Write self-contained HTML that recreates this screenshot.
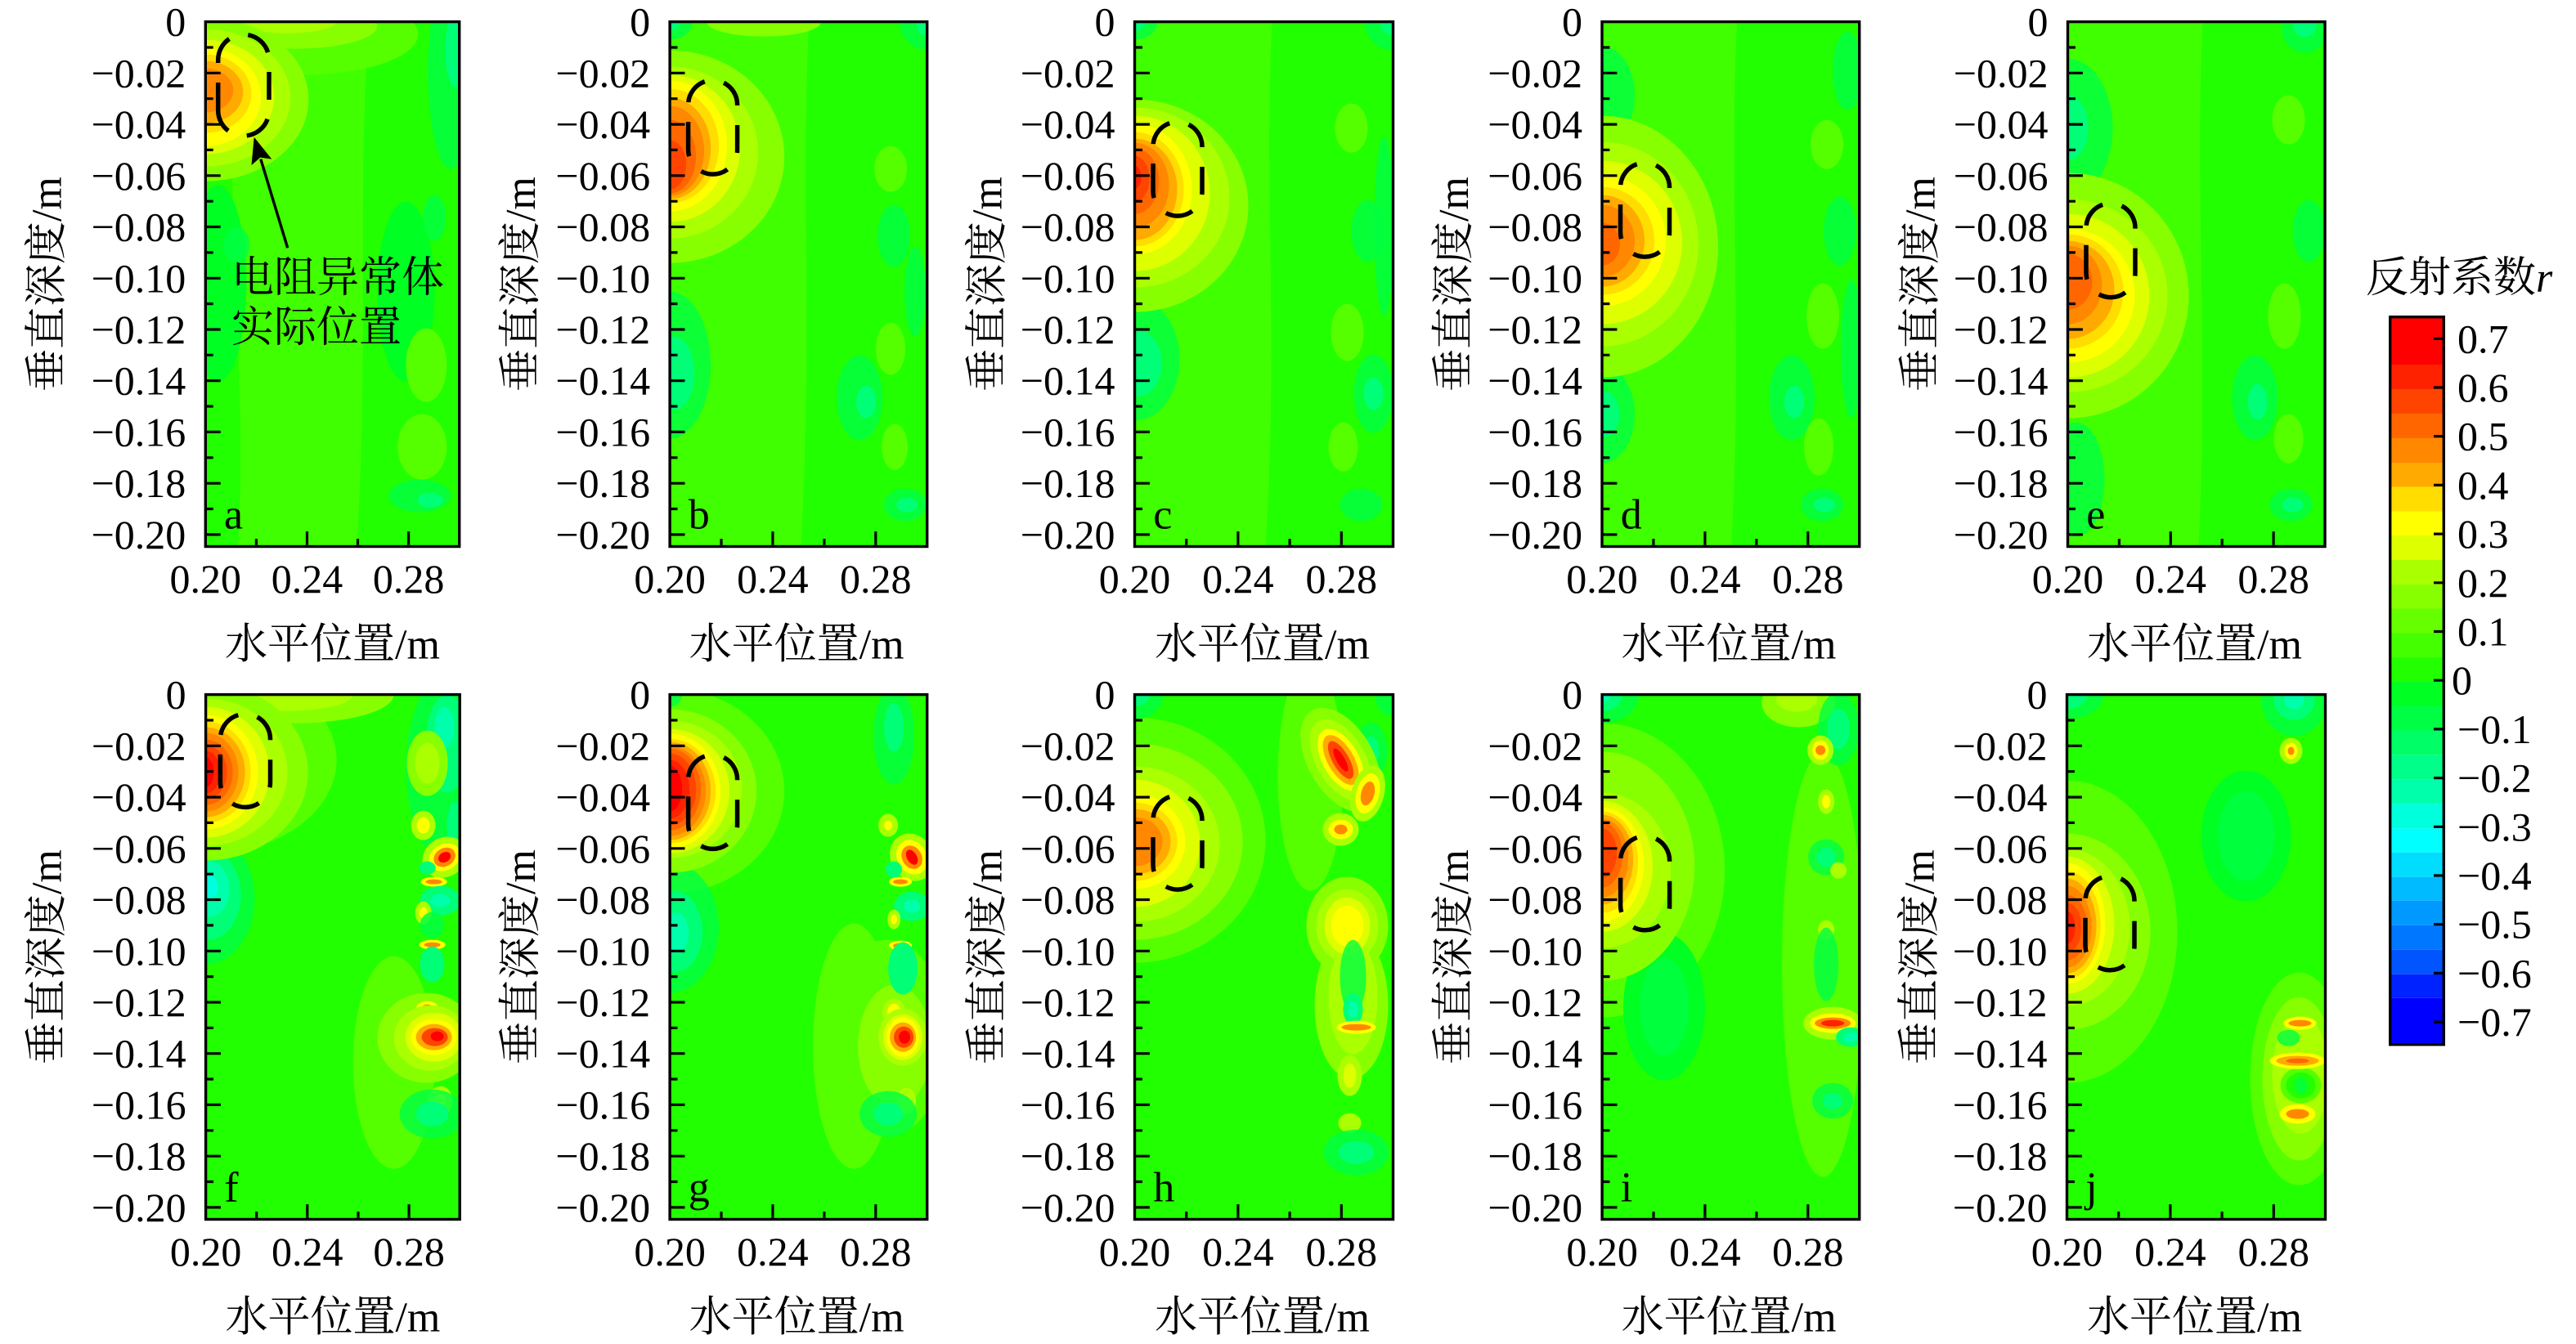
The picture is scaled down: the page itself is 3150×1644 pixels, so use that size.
<!DOCTYPE html>
<html><head><meta charset="utf-8">
<style>
html,body{margin:0;padding:0;background:#fff;}
svg{display:block;}
text{font-family:"Liberation Serif","Noto Serif CJK SC",serif;fill:#000;}
.yl{font-size:50px;text-anchor:end;}
.xl{font-size:50px;text-anchor:middle;}
.ti{font-size:52px;text-anchor:middle;}
.lt{font-size:52px;}
.cl{font-size:50px;}
.fr{fill:none;stroke:#000;stroke-width:3.4;}
.tk{fill:none;stroke:#000;stroke-width:3.2;}
.ds{fill:none;stroke:#000;stroke-width:5.5;stroke-dasharray:34 24;}
.g0{fill:#00ff22}.g1{fill:#22ff00}.gb{fill:#40ff00}.g2{fill:#55ff00}.g3{fill:#88ff00}.g4{fill:#aaff00}.g5{fill:#ddff00}
.y6{fill:#ffff00}.y7{fill:#ffdd00}.o8{fill:#ffaa00}.o9{fill:#ff8800}.o10{fill:#ff6600}
.r11{fill:#ff4400}.r12{fill:#ff2200}.r13{fill:#ff0000}
.n1{fill:#00ff44;fill-opacity:0.8}.n2{fill:#00ff77}.n3{fill:#00ffaa}.n4{fill:#00ffdd}
</style></head>
<body>
<svg width="3150" height="1644" viewBox="0 0 3150 1644" xmlns="http://www.w3.org/2000/svg">
<defs>
<clipPath id="cA"><rect width="310.5" height="641.9"/></clipPath>
<clipPath id="cB"><rect width="315" height="641.9"/></clipPath>
<clipPath id="cC"><rect width="316" height="641.9"/></clipPath>
<path id="ty" class="tk" d="M0 62.7h18.4M0 125.5h18.4M0 188.2h18.4M0 250.9h18.4M0 313.7h18.4M0 376.4h18.4M0 439.1h18.4M0 501.8h18.4M0 564.6h18.4M0 627.3h18.4M0 31.4h9.4M0 94.1h9.4M0 156.8h9.4M0 219.6h9.4M0 282.3h9.4M0 345h9.4M0 407.7h9.4M0 470.4h9.4M0 533.2h9.4M0 595.9h9.4"/>
</defs>
<rect width="3150" height="1644" fill="#fff"/>

<!-- ================= PANEL a ================= -->
<g transform="translate(251.3 26.6)">
<g clip-path="url(#cA)">
<rect width="320" height="650" class="g1"/>
<path class="gb" d="M30 0H200C185 200 200 400 185 642H40C50 450 30 300 30 0Z"/>
<ellipse class="g0" cx="15" cy="320" rx="35" ry="120"/>
<ellipse class="n1" cx="38" cy="273" rx="16" ry="22"/>
<ellipse class="g0" cx="245" cy="330" rx="35" ry="110"/>
<ellipse class="n1" cx="300" cy="60" rx="28" ry="120"/>
<ellipse class="n2" cx="306" cy="35" rx="13" ry="45"/>
<ellipse class="n1" cx="280" cy="240" rx="14" ry="28"/>
<ellipse class="g2" cx="270" cy="420" rx="25" ry="45"/>
<ellipse class="g2" cx="265" cy="520" rx="30" ry="40"/>
<ellipse class="n1" cx="262" cy="580" rx="38" ry="20"/>
<ellipse class="n2" cx="275" cy="585" rx="16" ry="9"/>
<ellipse class="g2" cx="120" cy="15" rx="140" ry="50"/>
<ellipse class="g3" cx="110" cy="5" rx="100" ry="28"/>
<ellipse class="g4" cx="100" cy="0" rx="60" ry="14"/>
<ellipse class="g3" cx="0" cy="95" rx="126" ry="100"/>
<ellipse class="g4" cx="0" cy="93" rx="104" ry="84"/>
<ellipse class="g5" cx="0" cy="92" rx="84" ry="70"/>
<ellipse class="y6" cx="0" cy="92" rx="68" ry="60"/>
<ellipse class="y7" cx="0" cy="88" rx="56" ry="48"/>
<ellipse class="o8" cx="0" cy="86" rx="46" ry="38"/>
<ellipse class="o9" cx="0" cy="84" rx="34" ry="27"/>
</g>
<path class="ds" d="M15.4 108.45V46.75A31.15 31.15 0 0 1 77.7 46.75V108.45A31.15 31.15 0 0 1 15.4 108.45Z"/>
<rect class="fr" width="310.4" height="641.9"/>
<use href="#ty"/>
<path class="tk" d="M62.1 641.9v-9.4M124.2 641.9v-18.4M186.2 641.9v-9.4M248.3 641.9v-18.4"/>
<text class="yl" x="-24" y="17">0</text>
<text class="yl" x="-24" y="79.7">−0.02</text>
<text class="yl" x="-24" y="142.5">−0.04</text>
<text class="yl" x="-24" y="205.2">−0.06</text>
<text class="yl" x="-24" y="267.9">−0.08</text>
<text class="yl" x="-24" y="330.7">−0.10</text>
<text class="yl" x="-24" y="393.4">−0.12</text>
<text class="yl" x="-24" y="456.1">−0.14</text>
<text class="yl" x="-24" y="518.8">−0.16</text>
<text class="yl" x="-24" y="581.6">−0.18</text>
<text class="yl" x="-24" y="644.3">−0.20</text>
<text class="xl" x="0" y="698.4">0.20</text>
<text class="xl" x="124.2" y="698.4">0.24</text>
<text class="xl" x="248.3" y="698.4">0.28</text>
<text class="ti" x="155.2" y="779">水平位置/m</text>
<text class="ti" transform="translate(-177 321) rotate(-90)">垂直深度/m</text>
<text class="lt" x="22.7" y="620">a</text>
<line x1="100.4" y1="276.7" x2="67.5" y2="168" stroke="#000" stroke-width="3.4"/>
<polygon points="59.4,141.1 81,168 66.9,166 56.2,175.5" fill="#000"/>
</g>
<text class="lt" x="283" y="357">电阻异常体</text>
<text class="lt" x="283" y="418">实际位置</text>

<!-- ================= PANEL b ================= -->
<g transform="translate(819.1 26.6)">
<g clip-path="url(#cB)">
<rect width="320" height="650" class="g1"/>
<path class="gb" d="M0 0H170C160 200 175 400 160 642H0Z"/>
<ellipse class="n1" cx="0" cy="420" rx="50" ry="90"/>
<ellipse class="n2" cx="5" cy="430" rx="25" ry="45"/>
<ellipse class="n1" cx="274" cy="262" rx="20" ry="38"/>
<ellipse class="n1" cx="232" cy="460" rx="28" ry="52"/>
<ellipse class="n2" cx="240" cy="465" rx="12" ry="20"/>
<ellipse class="n1" cx="300" cy="330" rx="13" ry="55"/>
<ellipse class="n1" cx="288" cy="591" rx="26" ry="20"/>
<ellipse class="n2" cx="290" cy="591" rx="13" ry="9"/>
<ellipse class="g2" cx="270" cy="180" rx="20" ry="28"/>
<ellipse class="g2" cx="270" cy="400" rx="18" ry="32"/>
<ellipse class="g2" cx="275" cy="520" rx="16" ry="28"/>
<ellipse class="g3" cx="115" cy="0" rx="70" ry="18"/>
<ellipse class="n1" cx="0" cy="0" rx="28" ry="22"/>
<ellipse class="n2" cx="0" cy="0" rx="14" ry="11"/>
<ellipse class="n1" cx="316" cy="0" rx="35" ry="35"/>
<ellipse class="n2" cx="316" cy="0" rx="15" ry="18"/>
<ellipse class="g3" cx="0" cy="165" rx="140" ry="130"/>
<ellipse class="g4" cx="0" cy="160" rx="108" ry="105"/>
<ellipse class="g5" cx="0" cy="155" rx="86" ry="90"/>
<ellipse class="y6" cx="0" cy="152" rx="70" ry="80"/>
<ellipse class="y7" cx="0" cy="152" rx="60" ry="70"/>
<ellipse class="o8" cx="0" cy="155" rx="50" ry="62"/>
<ellipse class="o9" cx="0" cy="158" rx="42" ry="55"/>
<ellipse class="o10" cx="0" cy="165" rx="32" ry="45"/>
<ellipse class="r11" cx="0" cy="175" rx="20" ry="30"/>
</g>
<path class="ds" d="M22.5 156.5V101.5A30 30 0 0 1 82.5 101.5V156.5A30 30 0 0 1 22.5 156.5Z"/>
<rect class="fr" width="314.6" height="641.9"/>
<use href="#ty"/>
<path class="tk" d="M62.9 641.9v-9.4M125.8 641.9v-18.4M188.8 641.9v-9.4M251.7 641.9v-18.4"/>
<text class="yl" x="-24" y="17">0</text>
<text class="yl" x="-24" y="79.7">−0.02</text>
<text class="yl" x="-24" y="142.5">−0.04</text>
<text class="yl" x="-24" y="205.2">−0.06</text>
<text class="yl" x="-24" y="267.9">−0.08</text>
<text class="yl" x="-24" y="330.7">−0.10</text>
<text class="yl" x="-24" y="393.4">−0.12</text>
<text class="yl" x="-24" y="456.1">−0.14</text>
<text class="yl" x="-24" y="518.8">−0.16</text>
<text class="yl" x="-24" y="581.6">−0.18</text>
<text class="yl" x="-24" y="644.3">−0.20</text>
<text class="xl" x="0" y="698.4">0.20</text>
<text class="xl" x="125.8" y="698.4">0.24</text>
<text class="xl" x="251.7" y="698.4">0.28</text>
<text class="ti" x="155" y="779">水平位置/m</text>
<text class="ti" transform="translate(-165 321) rotate(-90)">垂直深度/m</text>
<text class="lt" x="22.7" y="620">b</text>
</g>

<!-- ================= PANEL c ================= -->
<g transform="translate(1387.5 26.6)">
<g clip-path="url(#cC)">
<rect width="320" height="650" class="g1"/>
<path class="gb" d="M0 0H168C158 200 176 400 160 642H0Z"/>
<ellipse class="n1" cx="0" cy="413" rx="55" ry="75"/>
<ellipse class="n2" cx="5" cy="418" rx="28" ry="40"/>
<ellipse class="n1" cx="305" cy="250" rx="12" ry="110"/>
<ellipse class="n1" cx="285" cy="256" rx="20" ry="38"/>
<ellipse class="n1" cx="292" cy="455" rx="24" ry="48"/>
<ellipse class="n2" cx="292" cy="455" rx="12" ry="20"/>
<ellipse class="n1" cx="277" cy="591" rx="26" ry="20"/>
<ellipse class="g2" cx="265" cy="130" rx="20" ry="30"/>
<ellipse class="g2" cx="260" cy="380" rx="20" ry="35"/>
<ellipse class="g2" cx="255" cy="520" rx="18" ry="30"/>
<ellipse class="n1" cx="0" cy="0" rx="28" ry="22"/>
<ellipse class="n2" cx="0" cy="0" rx="14" ry="11"/>
<ellipse class="n1" cx="316" cy="0" rx="35" ry="35"/>
<ellipse class="n2" cx="316" cy="0" rx="16" ry="16"/>
<ellipse class="g3" cx="0" cy="225" rx="139" ry="130"/>
<ellipse class="g4" cx="0" cy="215" rx="116" ry="110"/>
<ellipse class="g5" cx="0" cy="210" rx="92" ry="95"/>
<ellipse class="y6" cx="0" cy="205" rx="70" ry="80"/>
<ellipse class="y7" cx="0" cy="205" rx="60" ry="70"/>
<ellipse class="o8" cx="0" cy="205" rx="52" ry="62"/>
<ellipse class="o9" cx="0" cy="200" rx="42" ry="52"/>
<ellipse class="o10" cx="0" cy="195" rx="30" ry="40"/>
<ellipse class="r11" cx="0" cy="192" rx="18" ry="28"/>
<ellipse class="r12" cx="0" cy="190" rx="8" ry="14"/>
</g>
<path class="ds" d="M22.5 207.5V152.5A30 30 0 0 1 82.5 152.5V207.5A30 30 0 0 1 22.5 207.5Z"/>
<rect class="fr" width="316" height="641.9"/>
<use href="#ty"/>
<path class="tk" d="M63.2 641.9v-9.4M126.4 641.9v-18.4M189.6 641.9v-9.4M252.8 641.9v-18.4"/>
<text class="yl" x="-24" y="17">0</text>
<text class="yl" x="-24" y="79.7">−0.02</text>
<text class="yl" x="-24" y="142.5">−0.04</text>
<text class="yl" x="-24" y="205.2">−0.06</text>
<text class="yl" x="-24" y="267.9">−0.08</text>
<text class="yl" x="-24" y="330.7">−0.10</text>
<text class="yl" x="-24" y="393.4">−0.12</text>
<text class="yl" x="-24" y="456.1">−0.14</text>
<text class="yl" x="-24" y="518.8">−0.16</text>
<text class="yl" x="-24" y="581.6">−0.18</text>
<text class="yl" x="-24" y="644.3">−0.20</text>
<text class="xl" x="0" y="698.4">0.20</text>
<text class="xl" x="126.4" y="698.4">0.24</text>
<text class="xl" x="252.8" y="698.4">0.28</text>
<text class="ti" x="156" y="779">水平位置/m</text>
<text class="ti" transform="translate(-163 321) rotate(-90)">垂直深度/m</text>
<text class="lt" x="22.7" y="620">c</text>
</g>

<!-- ================= PANEL d ================= -->
<g transform="translate(1959 26.6)">
<g clip-path="url(#cB)">
<rect width="320" height="650" class="g1"/>
<path class="gb" d="M0 0H165C155 200 172 400 158 642H0Z"/>
<ellipse class="n1" cx="0" cy="90" rx="40" ry="60"/>
<ellipse class="n1" cx="0" cy="480" rx="40" ry="60"/>
<ellipse class="n2" cx="3" cy="480" rx="18" ry="28"/>
<ellipse class="n1" cx="305" cy="400" rx="13" ry="85"/>
<ellipse class="n1" cx="291" cy="256" rx="20" ry="42"/>
<ellipse class="n1" cx="232" cy="460" rx="28" ry="52"/>
<ellipse class="n2" cx="235" cy="465" rx="12" ry="20"/>
<ellipse class="n1" cx="269" cy="591" rx="26" ry="20"/>
<ellipse class="n2" cx="272" cy="591" rx="13" ry="9"/>
<ellipse class="n1" cx="300" cy="60" rx="18" ry="48"/>
<ellipse class="g2" cx="275" cy="150" rx="20" ry="30"/>
<ellipse class="g2" cx="270" cy="360" rx="20" ry="40"/>
<ellipse class="g2" cx="265" cy="520" rx="18" ry="35"/>
<ellipse class="g3" cx="0" cy="275" rx="142" ry="160"/>
<ellipse class="g4" cx="0" cy="272" rx="118" ry="125"/>
<ellipse class="g5" cx="0" cy="270" rx="98" ry="100"/>
<ellipse class="y6" cx="0" cy="268" rx="78" ry="80"/>
<ellipse class="y7" cx="0" cy="268" rx="64" ry="66"/>
<ellipse class="o8" cx="0" cy="268" rx="52" ry="56"/>
<ellipse class="o9" cx="0" cy="268" rx="40" ry="44"/>
<ellipse class="o10" cx="0" cy="272" rx="22" ry="26"/>
</g>
<path class="ds" d="M22.5 257.5V202.5A30 30 0 0 1 82.5 202.5V257.5A30 30 0 0 1 22.5 257.5Z"/>
<rect class="fr" width="314.7" height="641.9"/>
<use href="#ty"/>
<path class="tk" d="M62.9 641.9v-9.4M125.9 641.9v-18.4M188.8 641.9v-9.4M251.8 641.9v-18.4"/>
<text class="yl" x="-24" y="17">0</text>
<text class="yl" x="-24" y="79.7">−0.02</text>
<text class="yl" x="-24" y="142.5">−0.04</text>
<text class="yl" x="-24" y="205.2">−0.06</text>
<text class="yl" x="-24" y="267.9">−0.08</text>
<text class="yl" x="-24" y="330.7">−0.10</text>
<text class="yl" x="-24" y="393.4">−0.12</text>
<text class="yl" x="-24" y="456.1">−0.14</text>
<text class="yl" x="-24" y="518.8">−0.16</text>
<text class="yl" x="-24" y="581.6">−0.18</text>
<text class="yl" x="-24" y="644.3">−0.20</text>
<text class="xl" x="0" y="698.4">0.20</text>
<text class="xl" x="125.9" y="698.4">0.24</text>
<text class="xl" x="251.8" y="698.4">0.28</text>
<text class="ti" x="155" y="779">水平位置/m</text>
<text class="ti" transform="translate(-164 321) rotate(-90)">垂直深度/m</text>
<text class="lt" x="22.7" y="620">d</text>
</g>

<!-- ================= PANEL e ================= -->
<g transform="translate(2528.5 26.6)">
<g clip-path="url(#cB)">
<rect width="320" height="650" class="g1"/>
<path class="gb" d="M0 0H165C155 200 172 400 160 642H0Z"/>
<ellipse class="n1" cx="0" cy="130" rx="55" ry="85"/>
<ellipse class="n2" cx="0" cy="130" rx="25" ry="40"/>
<ellipse class="n1" cx="10" cy="560" rx="35" ry="70"/>
<ellipse class="n1" cx="295" cy="256" rx="20" ry="38"/>
<ellipse class="n1" cx="229" cy="460" rx="28" ry="52"/>
<ellipse class="n2" cx="232" cy="465" rx="12" ry="22"/>
<ellipse class="n1" cx="273" cy="591" rx="26" ry="20"/>
<ellipse class="n2" cx="275" cy="591" rx="13" ry="9"/>
<ellipse class="n1" cx="290" cy="10" rx="28" ry="28"/>
<ellipse class="n2" cx="290" cy="5" rx="14" ry="14"/>
<ellipse class="g2" cx="270" cy="120" rx="20" ry="30"/>
<ellipse class="g2" cx="265" cy="360" rx="20" ry="40"/>
<ellipse class="g2" cx="270" cy="510" rx="18" ry="30"/>
<ellipse class="g3" cx="0" cy="335" rx="148" ry="150"/>
<ellipse class="g4" cx="0" cy="335" rx="122" ry="118"/>
<ellipse class="g5" cx="0" cy="335" rx="100" ry="100"/>
<ellipse class="y6" cx="0" cy="335" rx="82" ry="82"/>
<ellipse class="y7" cx="0" cy="330" rx="68" ry="70"/>
<ellipse class="o8" cx="0" cy="328" rx="57" ry="60"/>
<ellipse class="o9" cx="0" cy="322" rx="42" ry="48"/>
<ellipse class="o10" cx="0" cy="318" rx="30" ry="34"/>
</g>
<path class="ds" d="M22.5 307.1V252.1A30 30 0 0 1 82.5 252.1V307.1A30 30 0 0 1 22.5 307.1Z"/>
<rect class="fr" width="314.5" height="641.9"/>
<use href="#ty"/>
<path class="tk" d="M62.9 641.9v-9.4M125.8 641.9v-18.4M188.7 641.9v-9.4M251.6 641.9v-18.4"/>
<text class="yl" x="-24" y="17">0</text>
<text class="yl" x="-24" y="79.7">−0.02</text>
<text class="yl" x="-24" y="142.5">−0.04</text>
<text class="yl" x="-24" y="205.2">−0.06</text>
<text class="yl" x="-24" y="267.9">−0.08</text>
<text class="yl" x="-24" y="330.7">−0.10</text>
<text class="yl" x="-24" y="393.4">−0.12</text>
<text class="yl" x="-24" y="456.1">−0.14</text>
<text class="yl" x="-24" y="518.8">−0.16</text>
<text class="yl" x="-24" y="581.6">−0.18</text>
<text class="yl" x="-24" y="644.3">−0.20</text>
<text class="xl" x="0" y="698.4">0.20</text>
<text class="xl" x="125.8" y="698.4">0.24</text>
<text class="xl" x="251.6" y="698.4">0.28</text>
<text class="ti" x="155" y="779">水平位置/m</text>
<text class="ti" transform="translate(-163 321) rotate(-90)">垂直深度/m</text>
<text class="lt" x="22.7" y="620">e</text>
</g>

<!-- ================= PANEL f ================= -->
<g transform="translate(251.6 849.6)">
<g clip-path="url(#cA)">
<rect width="320" height="650" class="g1"/>
<ellipse class="g2" cx="230" cy="450" rx="50" ry="130"/>
<ellipse class="g2" cx="0" cy="80" rx="160" ry="115"/>
<ellipse class="g3" cx="110" cy="0" rx="120" ry="35"/>
<ellipse class="g4" cx="100" cy="0" rx="80" ry="20"/>
<ellipse class="n1" cx="0" cy="250" rx="60" ry="80"/>
<ellipse class="n2" cx="3" cy="245" rx="40" ry="55"/>
<ellipse class="n3" cx="5" cy="238" rx="24" ry="34"/>
<ellipse class="n4" cx="5" cy="235" rx="10" ry="14"/>
<ellipse class="n1" cx="290" cy="90" rx="45" ry="110"/>
<ellipse class="n2" cx="295" cy="60" rx="26" ry="60"/>
<ellipse class="n3" cx="292" cy="40" rx="12" ry="25"/>
<ellipse class="n2" cx="305" cy="160" rx="10" ry="30"/>
<ellipse class="g3" cx="271" cy="84" rx="25" ry="40"/>
<ellipse class="g4" cx="271" cy="84" rx="15" ry="25"/>
<ellipse class="g3" cx="270" cy="420" rx="60" ry="55"/>
<ellipse class="g4" cx="266" cy="160" rx="15" ry="18"/>
<ellipse class="y6" cx="266" cy="160" rx="8" ry="10"/>
<g transform="rotate(-30 292 199)">
<ellipse class="g4" cx="292" cy="199" rx="28" ry="24"/>
<ellipse class="y6" cx="292" cy="199" rx="20" ry="16"/>
<ellipse class="o9" cx="292" cy="199" rx="14" ry="11"/>
<ellipse class="r13" cx="292" cy="199" rx="8" ry="6"/>
</g>
<ellipse class="n2" cx="271" cy="212" rx="10" ry="8"/>
<ellipse class="y6" cx="279" cy="229" rx="16" ry="6"/>
<ellipse class="o9" cx="279" cy="229" rx="10" ry="3"/>
<ellipse class="n2" cx="287" cy="252" rx="25" ry="18"/>
<ellipse class="n3" cx="287" cy="252" rx="12" ry="8"/>
<ellipse class="g4" cx="266" cy="267" rx="10" ry="14"/>
<ellipse class="y6" cx="266" cy="267" rx="5" ry="7"/>
<ellipse class="n1" cx="277" cy="282" rx="15" ry="16"/>
<ellipse class="y6" cx="277" cy="306" rx="16" ry="6"/>
<ellipse class="o9" cx="277" cy="306" rx="10" ry="3"/>
<ellipse class="n2" cx="277" cy="330" rx="15" ry="22"/>
<ellipse class="y6" cx="271" cy="385" rx="14" ry="10"/>
<ellipse class="o9" cx="271" cy="385" rx="8" ry="6"/>
<ellipse class="g4" cx="275" cy="420" rx="45" ry="40"/>
<ellipse class="g5" cx="279" cy="419" rx="35" ry="30"/>
<ellipse class="y6" cx="279" cy="419" rx="28" ry="22"/>
<ellipse class="o8" cx="279" cy="419" rx="22" ry="16"/>
<ellipse class="r11" cx="280" cy="419" rx="16" ry="11"/>
<ellipse class="r13" cx="283" cy="418" rx="8" ry="6"/>
<ellipse class="g4" cx="287" cy="497" rx="15" ry="18"/>
<ellipse class="y6" cx="287" cy="497" rx="6" ry="8"/>
<ellipse class="n1" cx="277" cy="513" rx="40" ry="30"/>
<ellipse class="n2" cx="277" cy="513" rx="20" ry="15"/>
<ellipse class="g3" cx="0" cy="95" rx="125" ry="108"/>
<ellipse class="g4" cx="0" cy="95" rx="100" ry="90"/>
<ellipse class="g5" cx="0" cy="95" rx="78" ry="80"/>
<ellipse class="y6" cx="0" cy="95" rx="64" ry="70"/>
<ellipse class="y7" cx="0" cy="95" rx="55" ry="62"/>
<ellipse class="o8" cx="0" cy="95" rx="48" ry="55"/>
<ellipse class="o9" cx="0" cy="95" rx="40" ry="48"/>
<ellipse class="o10" cx="0" cy="95" rx="33" ry="40"/>
<ellipse class="r11" cx="0" cy="95" rx="26" ry="33"/>
<ellipse class="r12" cx="0" cy="95" rx="18" ry="26"/>
<ellipse class="r13" cx="0" cy="95" rx="10" ry="18"/>
</g>
<path class="ds" d="M17.8 107.25V54.35A30.55 30.55 0 0 1 78.9 54.35V107.25A30.55 30.55 0 0 1 17.8 107.25Z"/>
<rect class="fr" width="310.6" height="641.9"/>
<use href="#ty"/>
<path class="tk" d="M62.1 641.9v-9.4M124.2 641.9v-18.4M186.4 641.9v-9.4M248.5 641.9v-18.4"/>
<text class="yl" x="-24" y="17">0</text>
<text class="yl" x="-24" y="79.7">−0.02</text>
<text class="yl" x="-24" y="142.5">−0.04</text>
<text class="yl" x="-24" y="205.2">−0.06</text>
<text class="yl" x="-24" y="267.9">−0.08</text>
<text class="yl" x="-24" y="330.7">−0.10</text>
<text class="yl" x="-24" y="393.4">−0.12</text>
<text class="yl" x="-24" y="456.1">−0.14</text>
<text class="yl" x="-24" y="518.8">−0.16</text>
<text class="yl" x="-24" y="581.6">−0.18</text>
<text class="yl" x="-24" y="644.3">−0.20</text>
<text class="xl" x="0" y="698.4">0.20</text>
<text class="xl" x="124.2" y="698.4">0.24</text>
<text class="xl" x="248.5" y="698.4">0.28</text>
<text class="ti" x="155.3" y="779">水平位置/m</text>
<text class="ti" transform="translate(-177 321) rotate(-90)">垂直深度/m</text>
<text class="lt" x="22.7" y="620">f</text>
</g>

<!-- ================= PANEL g ================= -->
<g transform="translate(819.1 849.6)">
<g clip-path="url(#cB)">
<rect width="320" height="650" class="g1"/>
<ellipse class="g2" cx="225" cy="430" rx="50" ry="150"/>
<ellipse class="g2" cx="0" cy="118" rx="140" ry="125"/>
<ellipse class="n1" cx="0" cy="0" rx="15" ry="15"/>
<ellipse class="n1" cx="0" cy="285" rx="60" ry="80"/>
<ellipse class="n2" cx="5" cy="290" rx="35" ry="50"/>
<ellipse class="n3" cx="8" cy="292" rx="15" ry="25"/>
<ellipse class="g2" cx="265" cy="420" rx="75" ry="120"/>
<ellipse class="g3" cx="275" cy="430" rx="45" ry="75"/>
<ellipse class="n1" cx="274" cy="50" rx="25" ry="60"/>
<ellipse class="n2" cx="274" cy="40" rx="12" ry="30"/>
<ellipse class="g4" cx="267" cy="160" rx="12" ry="14"/>
<ellipse class="y6" cx="267" cy="160" rx="5" ry="6"/>
<g transform="rotate(-30 296 199)">
<ellipse class="g4" cx="296" cy="199" rx="26" ry="30"/>
<ellipse class="y6" cx="296" cy="199" rx="18" ry="22"/>
<ellipse class="o9" cx="296" cy="199" rx="12" ry="15"/>
<ellipse class="r13" cx="296" cy="199" rx="6" ry="10"/>
</g>
<ellipse class="n2" cx="274" cy="214" rx="10" ry="10"/>
<ellipse class="y6" cx="282" cy="229" rx="14" ry="6"/>
<ellipse class="o9" cx="282" cy="229" rx="9" ry="3"/>
<ellipse class="n2" cx="296" cy="259" rx="22" ry="18"/>
<ellipse class="n3" cx="296" cy="259" rx="10" ry="8"/>
<ellipse class="g4" cx="274" cy="275" rx="8" ry="12"/>
<ellipse class="y6" cx="274" cy="275" rx="4" ry="6"/>
<ellipse class="y6" cx="282" cy="307" rx="14" ry="6"/>
<ellipse class="o9" cx="282" cy="307" rx="9" ry="3"/>
<ellipse class="n2" cx="285" cy="335" rx="18" ry="32"/>
<ellipse class="g4" cx="274" cy="388" rx="14" ry="16"/>
<ellipse class="y6" cx="274" cy="388" rx="8" ry="10"/>
<ellipse class="g4" cx="285" cy="419" rx="30" ry="35"/>
<ellipse class="g5" cx="285" cy="419" rx="24" ry="28"/>
<ellipse class="y6" cx="285" cy="419" rx="20" ry="24"/>
<ellipse class="o8" cx="285" cy="419" rx="16" ry="18"/>
<ellipse class="r11" cx="286" cy="419" rx="12" ry="13"/>
<ellipse class="r13" cx="287" cy="419" rx="7" ry="8"/>
<ellipse class="g4" cx="289" cy="497" rx="12" ry="16"/>
<ellipse class="n1" cx="267" cy="513" rx="35" ry="28"/>
<ellipse class="n2" cx="267" cy="513" rx="18" ry="14"/>
<ellipse class="g3" cx="0" cy="118" rx="106" ry="100"/>
<ellipse class="g4" cx="0" cy="116" rx="88" ry="84"/>
<ellipse class="g5" cx="0" cy="118" rx="73" ry="76"/>
<ellipse class="y6" cx="0" cy="118" rx="62" ry="70"/>
<ellipse class="y7" cx="0" cy="118" rx="56" ry="64"/>
<ellipse class="o8" cx="0" cy="118" rx="50" ry="60"/>
<ellipse class="o9" cx="0" cy="118" rx="44" ry="55"/>
<ellipse class="o10" cx="0" cy="116" rx="38" ry="50"/>
<ellipse class="r11" cx="0" cy="116" rx="32" ry="44"/>
<ellipse class="r12" cx="0" cy="116" rx="24" ry="36"/>
<ellipse class="r13" cx="0" cy="115" rx="15" ry="28"/>
</g>
<path class="ds" d="M22.5 158.8V103.8A30 30 0 0 1 82.5 103.8V158.8A30 30 0 0 1 22.5 158.8Z"/>
<rect class="fr" width="314.6" height="641.9"/>
<use href="#ty"/>
<path class="tk" d="M62.9 641.9v-9.4M125.8 641.9v-18.4M188.8 641.9v-9.4M251.7 641.9v-18.4"/>
<text class="yl" x="-24" y="17">0</text>
<text class="yl" x="-24" y="79.7">−0.02</text>
<text class="yl" x="-24" y="142.5">−0.04</text>
<text class="yl" x="-24" y="205.2">−0.06</text>
<text class="yl" x="-24" y="267.9">−0.08</text>
<text class="yl" x="-24" y="330.7">−0.10</text>
<text class="yl" x="-24" y="393.4">−0.12</text>
<text class="yl" x="-24" y="456.1">−0.14</text>
<text class="yl" x="-24" y="518.8">−0.16</text>
<text class="yl" x="-24" y="581.6">−0.18</text>
<text class="yl" x="-24" y="644.3">−0.20</text>
<text class="xl" x="0" y="698.4">0.20</text>
<text class="xl" x="125.8" y="698.4">0.24</text>
<text class="xl" x="251.7" y="698.4">0.28</text>
<text class="ti" x="155" y="779">水平位置/m</text>
<text class="ti" transform="translate(-165 321) rotate(-90)">垂直深度/m</text>
<text class="lt" x="22.7" y="620">g</text>
</g>

<!-- ================= PANEL h ================= -->
<g transform="translate(1387.5 849.6)">
<g clip-path="url(#cC)">
<rect width="320" height="650" class="g1"/>
<ellipse class="g2" cx="215" cy="100" rx="40" ry="140"/>
<ellipse class="g2" cx="0" cy="178" rx="160" ry="150"/>
<ellipse class="n1" cx="0" cy="0" rx="35" ry="30"/>
<ellipse class="n2" cx="0" cy="0" rx="18" ry="14"/>
<ellipse class="n1" cx="315" cy="6" rx="20" ry="20"/>
<ellipse class="g3" cx="260" cy="283" rx="50" ry="60"/>
<ellipse class="g3" cx="265" cy="380" rx="45" ry="90"/>
<ellipse class="g4" cx="267" cy="370" rx="30" ry="70"/>
<ellipse class="n1" cx="289" cy="69" rx="20" ry="35"/>
<ellipse class="n2" cx="289" cy="69" rx="10" ry="18"/>
<g transform="rotate(-30 252 80)">
<ellipse class="g3" cx="252" cy="80" rx="40" ry="70"/>
<ellipse class="g4" cx="252" cy="80" rx="30" ry="55"/>
<ellipse class="y6" cx="252" cy="80" rx="22" ry="42"/>
<ellipse class="o8" cx="252" cy="80" rx="16" ry="34"/>
<ellipse class="r11" cx="252" cy="80" rx="10" ry="26"/>
<ellipse class="r13" cx="252" cy="80" rx="5" ry="16"/>
</g>
<g transform="rotate(15 285 121)">
<ellipse class="g4" cx="285" cy="121" rx="20" ry="35"/>
<ellipse class="y6" cx="285" cy="121" rx="14" ry="25"/>
<ellipse class="o9" cx="285" cy="121" rx="8" ry="15"/>
</g>
<ellipse class="g4" cx="252" cy="165" rx="22" ry="20"/>
<ellipse class="y6" cx="252" cy="165" rx="15" ry="12"/>
<ellipse class="o9" cx="252" cy="165" rx="8" ry="6"/>
<ellipse class="g4" cx="260" cy="283" rx="38" ry="45"/>
<ellipse class="g5" cx="260" cy="283" rx="28" ry="35"/>
<ellipse class="y6" cx="260" cy="283" rx="20" ry="25"/>
<ellipse class="n1" cx="267" cy="345" rx="16" ry="45"/>
<ellipse class="n2" cx="267" cy="385" rx="12" ry="20"/>
<ellipse class="n3" cx="267" cy="385" rx="6" ry="10"/>
<ellipse class="y6" cx="271" cy="407" rx="24" ry="8"/>
<ellipse class="o9" cx="271" cy="407" rx="18" ry="4"/>
<ellipse class="g4" cx="263" cy="466" rx="15" ry="25"/>
<ellipse class="g5" cx="263" cy="466" rx="8" ry="15"/>
<ellipse class="g4" cx="263" cy="524" rx="14" ry="12"/>
<ellipse class="n1" cx="271" cy="560" rx="40" ry="28"/>
<ellipse class="n2" cx="271" cy="560" rx="22" ry="14"/>
<ellipse class="g3" cx="0" cy="180" rx="132" ry="120"/>
<ellipse class="g4" cx="0" cy="183" rx="104" ry="95"/>
<ellipse class="g5" cx="0" cy="182" rx="80" ry="78"/>
<ellipse class="y6" cx="0" cy="180" rx="62" ry="58"/>
<ellipse class="y7" cx="0" cy="180" rx="52" ry="48"/>
<ellipse class="o8" cx="0" cy="180" rx="44" ry="40"/>
<ellipse class="o9" cx="0" cy="180" rx="34" ry="30"/>
</g>
<path class="ds" d="M22.5 208.5V153.5A30 30 0 0 1 82.5 153.5V208.5A30 30 0 0 1 22.5 208.5Z"/>
<rect class="fr" width="316" height="641.9"/>
<use href="#ty"/>
<path class="tk" d="M63.2 641.9v-9.4M126.4 641.9v-18.4M189.6 641.9v-9.4M252.8 641.9v-18.4"/>
<text class="yl" x="-24" y="17">0</text>
<text class="yl" x="-24" y="79.7">−0.02</text>
<text class="yl" x="-24" y="142.5">−0.04</text>
<text class="yl" x="-24" y="205.2">−0.06</text>
<text class="yl" x="-24" y="267.9">−0.08</text>
<text class="yl" x="-24" y="330.7">−0.10</text>
<text class="yl" x="-24" y="393.4">−0.12</text>
<text class="yl" x="-24" y="456.1">−0.14</text>
<text class="yl" x="-24" y="518.8">−0.16</text>
<text class="yl" x="-24" y="581.6">−0.18</text>
<text class="yl" x="-24" y="644.3">−0.20</text>
<text class="xl" x="0" y="698.4">0.20</text>
<text class="xl" x="126.4" y="698.4">0.24</text>
<text class="xl" x="252.8" y="698.4">0.28</text>
<text class="ti" x="156" y="779">水平位置/m</text>
<text class="ti" transform="translate(-163 321) rotate(-90)">垂直深度/m</text>
<text class="lt" x="22.7" y="620">h</text>
</g>

<!-- ================= PANEL i ================= -->
<g transform="translate(1959.1 849.6)">
<g clip-path="url(#cB)">
<rect width="320" height="650" class="g1"/>
<ellipse class="g2" cx="270" cy="330" rx="50" ry="260"/>
<ellipse class="g3" cx="240" cy="10" rx="45" ry="30"/>
<ellipse class="g4" cx="238" cy="6" rx="25" ry="15"/>
<ellipse class="g2" cx="0" cy="215" rx="150" ry="180"/>
<ellipse class="g0" cx="76" cy="382" rx="50" ry="90"/>
<ellipse class="n1" cx="76" cy="382" rx="30" ry="60"/>
<ellipse class="n1" cx="0" cy="0" rx="45" ry="35"/>
<ellipse class="n2" cx="0" cy="0" rx="25" ry="20"/>
<ellipse class="n3" cx="0" cy="0" rx="10" ry="10"/>
<ellipse class="n1" cx="289" cy="42" rx="25" ry="45"/>
<ellipse class="n2" cx="289" cy="42" rx="14" ry="25"/>
<ellipse class="g4" cx="267" cy="68" rx="16" ry="18"/>
<ellipse class="y6" cx="267" cy="68" rx="10" ry="12"/>
<ellipse class="o9" cx="267" cy="68" rx="6" ry="6"/>
<ellipse class="g4" cx="274" cy="131" rx="10" ry="15"/>
<ellipse class="y6" cx="274" cy="131" rx="5" ry="8"/>
<ellipse class="n1" cx="274" cy="199" rx="22" ry="22"/>
<ellipse class="n2" cx="274" cy="199" rx="12" ry="12"/>
<ellipse class="g4" cx="289" cy="215" rx="10" ry="10"/>
<ellipse class="g4" cx="274" cy="288" rx="10" ry="12"/>
<ellipse class="n1" cx="274" cy="330" rx="15" ry="45"/>
<ellipse class="g4" cx="282" cy="402" rx="36" ry="20"/>
<ellipse class="y6" cx="282" cy="402" rx="28" ry="12"/>
<ellipse class="o9" cx="282" cy="402" rx="22" ry="7"/>
<ellipse class="r12" cx="282" cy="402" rx="14" ry="4"/>
<ellipse class="n2" cx="304" cy="419" rx="18" ry="12"/>
<ellipse class="n3" cx="304" cy="419" rx="8" ry="6"/>
<ellipse class="n1" cx="282" cy="497" rx="25" ry="22"/>
<ellipse class="n2" cx="282" cy="497" rx="12" ry="10"/>
<ellipse class="g3" cx="0" cy="210" rx="113" ry="140"/>
<ellipse class="g4" cx="0" cy="215" rx="84" ry="95"/>
<ellipse class="g5" cx="0" cy="210" rx="62" ry="80"/>
<ellipse class="y6" cx="0" cy="208" rx="51" ry="70"/>
<ellipse class="y7" cx="0" cy="205" rx="44" ry="62"/>
<ellipse class="o8" cx="0" cy="202" rx="38" ry="55"/>
<ellipse class="o9" cx="0" cy="200" rx="32" ry="48"/>
<ellipse class="o10" cx="0" cy="196" rx="25" ry="40"/>
<ellipse class="r11" cx="0" cy="194" rx="18" ry="30"/>
</g>
<path class="ds" d="M22.5 258.2V203.2A30 30 0 0 1 82.5 203.2V258.2A30 30 0 0 1 22.5 258.2Z"/>
<rect class="fr" width="314.6" height="641.9"/>
<use href="#ty"/>
<path class="tk" d="M62.9 641.9v-9.4M125.8 641.9v-18.4M188.8 641.9v-9.4M251.7 641.9v-18.4"/>
<text class="yl" x="-24" y="17">0</text>
<text class="yl" x="-24" y="79.7">−0.02</text>
<text class="yl" x="-24" y="142.5">−0.04</text>
<text class="yl" x="-24" y="205.2">−0.06</text>
<text class="yl" x="-24" y="267.9">−0.08</text>
<text class="yl" x="-24" y="330.7">−0.10</text>
<text class="yl" x="-24" y="393.4">−0.12</text>
<text class="yl" x="-24" y="456.1">−0.14</text>
<text class="yl" x="-24" y="518.8">−0.16</text>
<text class="yl" x="-24" y="581.6">−0.18</text>
<text class="yl" x="-24" y="644.3">−0.20</text>
<text class="xl" x="0" y="698.4">0.20</text>
<text class="xl" x="125.8" y="698.4">0.24</text>
<text class="xl" x="251.7" y="698.4">0.28</text>
<text class="ti" x="155" y="779">水平位置/m</text>
<text class="ti" transform="translate(-164 321) rotate(-90)">垂直深度/m</text>
<text class="lt" x="22.7" y="620">i</text>
</g>

<!-- ================= PANEL j ================= -->
<g transform="translate(2527.5 849.6)">
<g clip-path="url(#cC)">
<rect width="320" height="650" class="g1"/>
<ellipse class="g2" cx="0" cy="290" rx="135" ry="185"/>
<ellipse class="g0" cx="219" cy="173" rx="55" ry="80"/>
<ellipse class="n1" cx="219" cy="173" rx="35" ry="55"/>
<ellipse class="n1" cx="0" cy="0" rx="45" ry="30"/>
<ellipse class="n2" cx="0" cy="0" rx="25" ry="18"/>
<ellipse class="n1" cx="278" cy="6" rx="40" ry="45"/>
<ellipse class="n2" cx="278" cy="6" rx="25" ry="25"/>
<ellipse class="n3" cx="278" cy="6" rx="12" ry="12"/>
<ellipse class="g4" cx="274" cy="69" rx="14" ry="16"/>
<ellipse class="y6" cx="274" cy="69" rx="8" ry="10"/>
<ellipse class="o9" cx="274" cy="69" rx="4" ry="5"/>
<ellipse class="g2" cx="284" cy="470" rx="60" ry="130"/>
<ellipse class="g3" cx="284" cy="470" rx="45" ry="100"/>
<ellipse class="g4" cx="286" cy="465" rx="35" ry="72"/>
<ellipse class="g2" cx="286" cy="478" rx="25" ry="22"/>
<ellipse class="g1" cx="286" cy="478" rx="18" ry="16"/>
<ellipse class="n1" cx="286" cy="478" rx="8" ry="10"/>
<ellipse class="y6" cx="285" cy="402" rx="20" ry="8"/>
<ellipse class="o9" cx="285" cy="402" rx="14" ry="4"/>
<ellipse class="n1" cx="271" cy="420" rx="14" ry="10"/>
<ellipse class="y6" cx="282" cy="448" rx="34" ry="10"/>
<ellipse class="o8" cx="282" cy="448" rx="26" ry="6"/>
<ellipse class="o10" cx="282" cy="448" rx="14" ry="3"/>
<ellipse class="y6" cx="282" cy="513" rx="22" ry="12"/>
<ellipse class="o9" cx="282" cy="513" rx="14" ry="6"/>
<ellipse class="g3" cx="0" cy="290" rx="102" ry="120"/>
<ellipse class="g4" cx="0" cy="285" rx="77" ry="96"/>
<ellipse class="g5" cx="0" cy="282" rx="58" ry="84"/>
<ellipse class="y6" cx="0" cy="280" rx="47" ry="74"/>
<ellipse class="y7" cx="0" cy="282" rx="41" ry="66"/>
<ellipse class="o8" cx="0" cy="283" rx="36" ry="58"/>
<ellipse class="o9" cx="0" cy="284" rx="30" ry="50"/>
<ellipse class="o10" cx="0" cy="285" rx="25" ry="40"/>
<ellipse class="r11" cx="0" cy="285" rx="18" ry="30"/>
<ellipse class="r12" cx="0" cy="285" rx="10" ry="20"/>
</g>
<path class="ds" d="M22.5 307.1V252.1A30 30 0 0 1 82.5 252.1V307.1A30 30 0 0 1 22.5 307.1Z"/>
<rect class="fr" width="316" height="641.9"/>
<use href="#ty"/>
<path class="tk" d="M63.2 641.9v-9.4M126.4 641.9v-18.4M189.6 641.9v-9.4M252.8 641.9v-18.4"/>
<text class="yl" x="-24" y="17">0</text>
<text class="yl" x="-24" y="79.7">−0.02</text>
<text class="yl" x="-24" y="142.5">−0.04</text>
<text class="yl" x="-24" y="205.2">−0.06</text>
<text class="yl" x="-24" y="267.9">−0.08</text>
<text class="yl" x="-24" y="330.7">−0.10</text>
<text class="yl" x="-24" y="393.4">−0.12</text>
<text class="yl" x="-24" y="456.1">−0.14</text>
<text class="yl" x="-24" y="518.8">−0.16</text>
<text class="yl" x="-24" y="581.6">−0.18</text>
<text class="yl" x="-24" y="644.3">−0.20</text>
<text class="xl" x="0" y="698.4">0.20</text>
<text class="xl" x="126.4" y="698.4">0.24</text>
<text class="xl" x="252.8" y="698.4">0.28</text>
<text class="ti" x="156" y="779">水平位置/m</text>
<text class="ti" transform="translate(-163 321) rotate(-90)">垂直深度/m</text>
<text class="lt" x="22.7" y="620">j</text>
</g>

<!-- ================= COLORBAR ================= -->
<g>
<rect x="2922.7" y="387.7" width="65.6" height="58.3" fill="#ff0000"/>
<rect x="2922.7" y="446" width="65.6" height="30" fill="#ff2200"/>
<rect x="2922.7" y="476" width="65.6" height="30" fill="#ff4400"/>
<rect x="2922.7" y="506" width="65.6" height="30" fill="#ff6600"/>
<rect x="2922.7" y="536" width="65.6" height="30" fill="#ff8800"/>
<rect x="2922.7" y="566" width="65.6" height="29.5" fill="#ffaa00"/>
<rect x="2922.7" y="595.5" width="65.6" height="30" fill="#ffdd00"/>
<rect x="2922.7" y="625.5" width="65.6" height="29.5" fill="#ffff00"/>
<rect x="2922.7" y="655" width="65.6" height="30" fill="#ddff00"/>
<rect x="2922.7" y="685" width="65.6" height="30" fill="#aaff00"/>
<rect x="2922.7" y="715" width="65.6" height="29.5" fill="#88ff00"/>
<rect x="2922.7" y="744.5" width="65.6" height="30" fill="#66ff00"/>
<rect x="2922.7" y="774.5" width="65.6" height="29.5" fill="#44ff00"/>
<rect x="2922.7" y="804" width="65.6" height="30" fill="#22ff00"/>
<rect x="2922.7" y="834" width="65.6" height="29.5" fill="#00ff22"/>
<rect x="2922.7" y="863.5" width="65.6" height="30" fill="#00ff44"/>
<rect x="2922.7" y="893.5" width="65.6" height="29.8" fill="#00ff66"/>
<rect x="2922.7" y="923.3" width="65.6" height="30" fill="#00ff88"/>
<rect x="2922.7" y="953.3" width="65.6" height="30" fill="#00ffaa"/>
<rect x="2922.7" y="983.3" width="65.6" height="30" fill="#00ffdd"/>
<rect x="2922.7" y="1013.3" width="65.6" height="29.4" fill="#00ffff"/>
<rect x="2922.7" y="1042.7" width="65.6" height="30" fill="#00ddff"/>
<rect x="2922.7" y="1072.7" width="65.6" height="29" fill="#00bbff"/>
<rect x="2922.7" y="1101.7" width="65.6" height="30" fill="#0099ff"/>
<rect x="2922.7" y="1131.7" width="65.6" height="30" fill="#0077ff"/>
<rect x="2922.7" y="1161.7" width="65.6" height="30" fill="#0055ff"/>
<rect x="2922.7" y="1191.7" width="65.6" height="29" fill="#0022ff"/>
<rect x="2922.7" y="1220.7" width="65.6" height="57" fill="#0000ff"/>
<rect class="fr" x="2922.7" y="387.7" width="65.6" height="890"/>
<path class="tk" d="M2976 414.3H2988M2976 474H2988M2976 533.7H2988M2976 593.4H2988M2976 653.1H2988M2976 712.8H2988M2976 772.5H2988M2976 832.2H2988M2976 891.9H2988M2976 951.6H2988M2976 1011.3H2988M2976 1071H2988M2976 1130.7H2988M2976 1190.4H2988M2976 1250.1H2988"/>
<text class="cl" x="3005" y="431.3">0.7</text>
<text class="cl" x="3005" y="491">0.6</text>
<text class="cl" x="3005" y="550.7">0.5</text>
<text class="cl" x="3005" y="610.4">0.4</text>
<text class="cl" x="3005" y="670.1">0.3</text>
<text class="cl" x="3005" y="729.8">0.2</text>
<text class="cl" x="3005" y="789.5">0.1</text>
<text class="cl" x="2998" y="849.2">0</text>
<text class="cl" x="3005" y="908.9">−0.1</text>
<text class="cl" x="3005" y="968.6">−0.2</text>
<text class="cl" x="3005" y="1028.3">−0.3</text>
<text class="cl" x="3005" y="1088">−0.4</text>
<text class="cl" x="3005" y="1147.7">−0.5</text>
<text class="cl" x="3005" y="1207.4">−0.6</text>
<text class="cl" x="3005" y="1267.1">−0.7</text>
<text class="lt" x="2893" y="357">反射系数<tspan font-style="italic">r</tspan></text>
</g>
</svg>
</body></html>
